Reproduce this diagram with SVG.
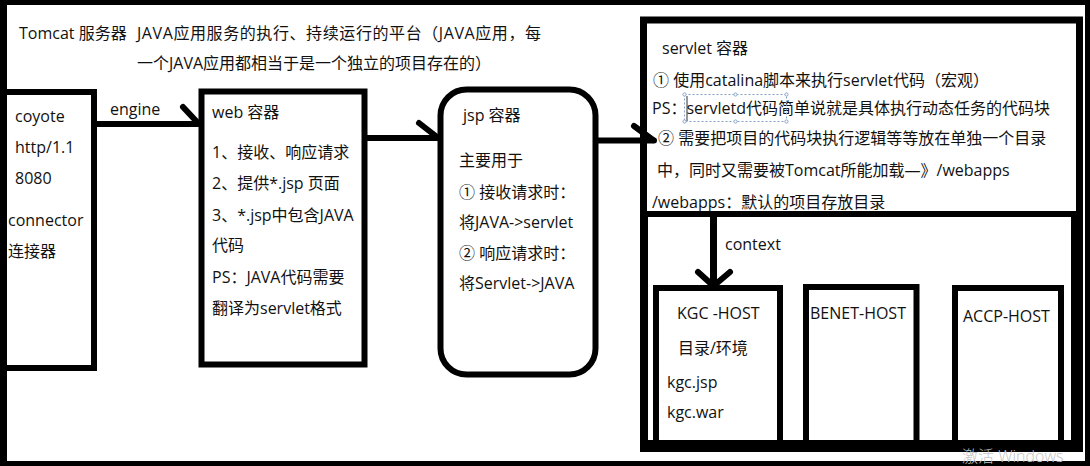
<svg xmlns="http://www.w3.org/2000/svg" width="1090" height="466" viewBox="0 0 1090 466">
<style>
  .t { font-family: "Open Sans", "Noto Sans CJK SC", sans-serif; font-size: 16px; fill: #111; }
  .box { fill: #fff; stroke: #000; stroke-width: 6; }
  .ln { fill: none; stroke: #000; stroke-width: 6; stroke-linecap: round; stroke-linejoin: round; }
  .blk { fill: #000; }
</style>
<rect x="0" y="0" width="1090" height="466" fill="#fff"/>
<g id="frame">
  <rect x="2.5" y="2.5" width="1085" height="461" fill="none" stroke="#000" stroke-width="5"/>
  <rect x="0" y="0" width="7" height="466" class="blk"/>
  <text class="t" x="19" y="39">Tomcat 服务器</text>
  <text class="t" x="137" y="39" textLength="404" lengthAdjust="spacing">JAVA应用服务的执行、持续运行的平台（JAVA应用，每</text>
  <text class="t" x="137" y="69">一个JAVA应用都相当于是一个独立的项目存在的）</text>
</g>
<g id="coyote">
  <rect class="box" x="3" y="92" width="91" height="276"/>
  <rect x="0" y="88" width="7" height="290" class="blk"/>
  <text class="t" x="15" y="122">coyote</text>
  <text class="t" x="15" y="153">http/1.1</text>
  <text class="t" x="15" y="184">8080</text>
  <text class="t" x="8" y="226">connector</text>
  <text class="t" x="8" y="257">连接器</text>
</g>
<g id="web">
  <rect class="box" x="201.5" y="91.5" width="163" height="273"/>
  <text class="t" x="212" y="118">web 容器</text>
  <text class="t" x="212" y="158">1、接收、响应请求</text>
  <text class="t" x="212" y="189">2、提供*.jsp 页面</text>
  <text class="t" x="212" y="221">3、*.jsp中包含JAVA</text>
  <text class="t" x="212" y="251">代码</text>
  <text class="t" x="212" y="283">PS：JAVA代码需要</text>
  <text class="t" x="212" y="314">翻译为servlet格式</text>
</g>
<g id="jsp">
  <rect class="box" x="440.5" y="89.5" width="155" height="285" rx="26" ry="26"/>
  <text class="t" x="463" y="121">jsp 容器</text>
  <text class="t" x="459" y="166">主要用于</text>
  <text class="t" x="459" y="198">① 接收请求时：</text>
  <text class="t" x="459" y="228">将JAVA-&gt;servlet</text>
  <text class="t" x="459" y="259">② 响应请求时：</text>
  <text class="t" x="459" y="289">将Servlet-&gt;JAVA</text>
</g>
<g id="servlet">
  <rect x="643.5" y="20" width="436" height="426" fill="#fff" stroke="#000" stroke-width="7"/>
  <line x1="640" y1="214" x2="1083" y2="214" stroke="#000" stroke-width="6"/>
  <rect x="640" y="214" width="8" height="238" class="blk"/>
  <rect x="1071" y="214" width="12" height="238" class="blk"/>
  <text class="t" x="662" y="54">servlet 容器</text>
  <text class="t" x="653" y="86">① 使用catalina脚本来执行servlet代码（宏观）</text>
  <text class="t" x="652" y="114">PS：servletd代码简单说就是具体执行动态任务的代码块</text>
  <g fill="none" stroke="#7f9fc4" stroke-width="1">
    <rect x="684.5" y="94.5" width="102" height="27" stroke-dasharray="2,2"/>
    <line x1="687" y1="96" x2="687" y2="121" stroke="#333"/>
  </g>
  <g fill="#fff" stroke="#8aa6c8" stroke-width="1">
    <circle cx="684.5" cy="94.5" r="1.6"/>
    <circle cx="735.5" cy="94.5" r="1.6"/>
    <circle cx="786.5" cy="94.5" r="1.6"/>
    <circle cx="684.5" cy="121.5" r="1.6"/>
    <circle cx="735.5" cy="121.5" r="1.6"/>
    <circle cx="786.5" cy="121.5" r="1.6"/>
  </g>
  <text class="t" x="658" y="144">② 需要把项目的代码块执行逻辑等等放在单独一个目录</text>
  <text class="t" x="657" y="176">中，同时又需要被Tomcat所能加载—》/webapps</text>
  <text class="t" x="652" y="208">/webapps：默认的项目存放目录</text>
</g>
<g id="kgc-host">
  <rect class="box" x="656" y="288" width="124" height="155"/>
  <text class="t" x="677" y="319">KGC -HOST</text>
  <text class="t" x="678" y="354">目录/环境</text>
  <text class="t" x="667" y="388">kgc.jsp</text>
  <text class="t" x="667" y="418">kgc.war</text>
</g>
<g id="benet-host">
  <rect class="box" x="806" y="287" width="110.5" height="156"/>
  <text class="t" x="810" y="319">BENET-HOST</text>
</g>
<g id="accp-host">
  <rect class="box" x="955" y="288" width="106" height="155"/>
  <text class="t" x="963" y="322">ACCP-HOST</text>
</g>
<rect x="640" y="440" width="443" height="12" class="blk"/>
<g id="connectors">
  <line class="ln" x1="94" y1="124" x2="198" y2="124"/>
  <line class="ln" x1="183" y1="107" x2="198" y2="123"/>
  <text class="t" x="110" y="115">engine</text>
  <line class="ln" x1="365" y1="138" x2="438" y2="138"/>
  <line class="ln" x1="419" y1="123" x2="437" y2="137"/>
  <line class="ln" x1="596" y1="140.5" x2="654" y2="140.5"/>
  <line class="ln" x1="634" y1="126" x2="653" y2="140"/>
  <line x1="713.5" y1="217" x2="713.5" y2="286" stroke="#000" stroke-width="7"/>
  <polyline class="ln" points="698,272 713.5,286 730,272" stroke-width="7"/>
  <text class="t" x="725" y="250">context</text>
</g>
<text x="962" y="462" font-family="'Open Sans', 'Noto Sans CJK SC', sans-serif" font-size="16" font-weight="300" fill="#c4c4c4">激活 Windows</text>
</svg>
